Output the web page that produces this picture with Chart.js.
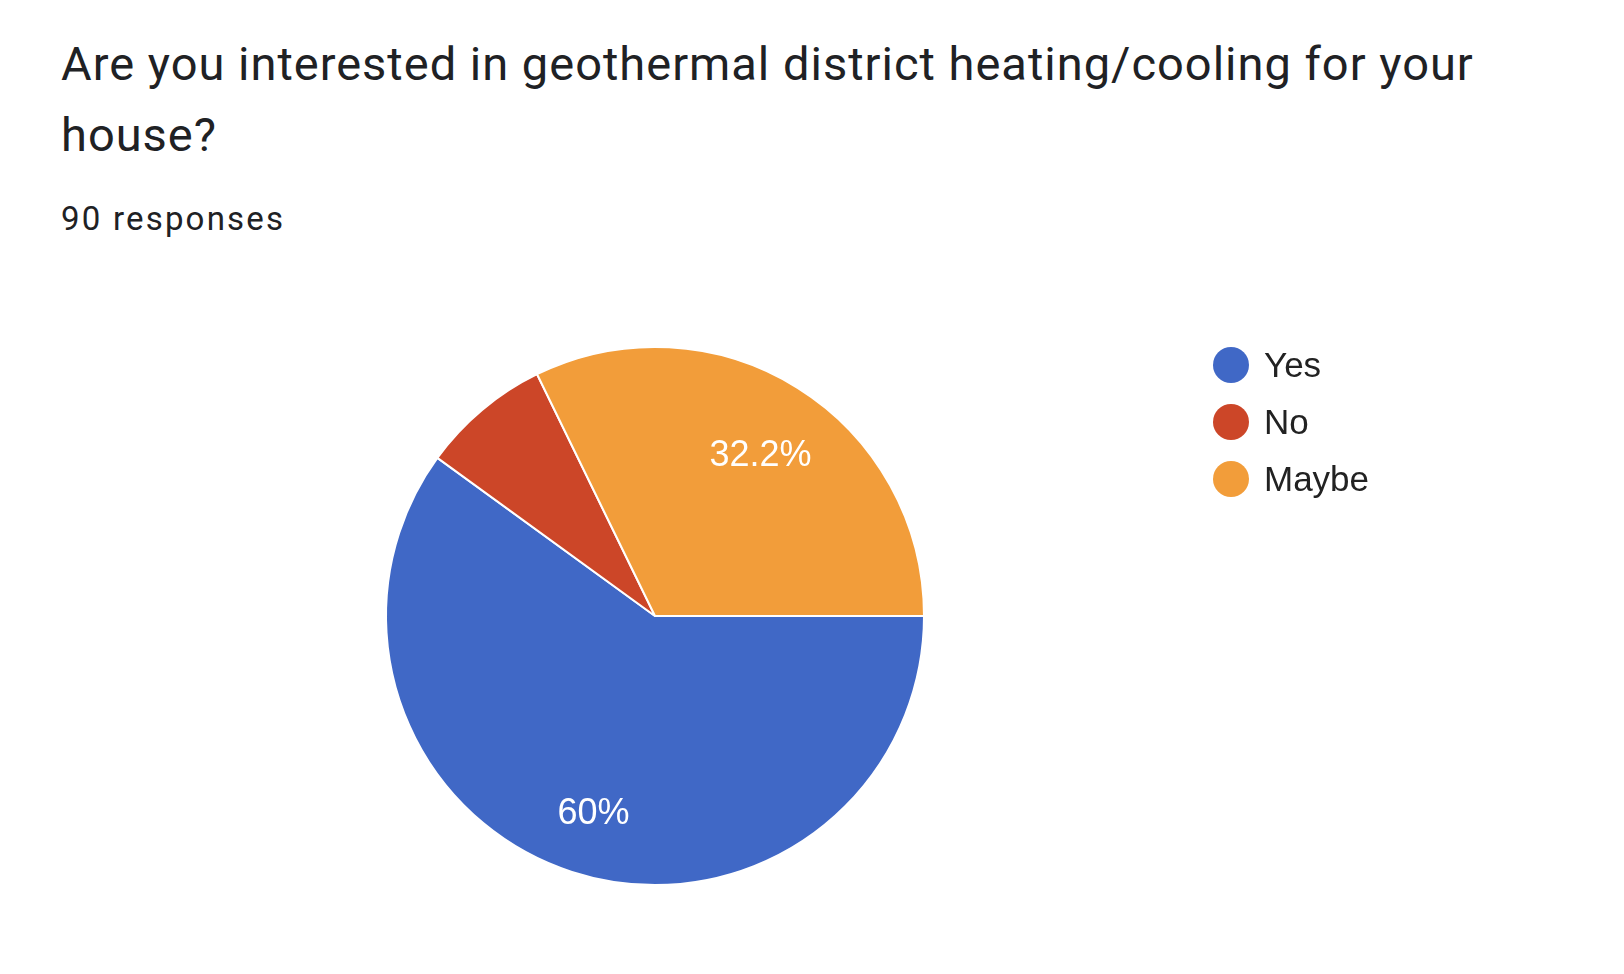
<!DOCTYPE html>
<html>
<head>
<meta charset="utf-8">
<script src="https://cdn.jsdelivr.net/npm/chart.js@4"></script>
<style>
    html, body { margin: 0; padding: 0; background: #fff; }
    body { width: 1624px; height: 974px; position: relative; overflow: hidden; }
    #title {
        position: absolute; left: 61px; top: 28px; width: 1520px;
        font-family: Roboto, "Noto Sans", sans-serif; font-size: 47px; line-height: 71px;
        letter-spacing: 1px; color: #202124; margin: 0; font-weight: 400;
    }
    #subtitle {
        position: absolute; left: 61px; top: 199px; letter-spacing: 2.2px;
        font-family: Roboto, "Noto Sans", sans-serif; font-size: 33px; color: #202124;
    }
    #chartWrap { position: absolute; left: 0; top: 0; width: 1624px; height: 974px; }
    #legend { position: absolute; left: 1213px; top: 347px; font-family: "Liberation Sans", Arial, sans-serif; }
    .legend-item { height: 57px; display: flex; align-items: flex-start; }
    .legend-dot { width: 36px; height: 36px; border-radius: 50%; margin-right: 15px; }
    .legend-label { font-size: 35px; line-height: 36px; color: #222; }
</style>
</head>
<body>
<div id="title">Are you interested in geothermal district heating/cooling for your house?</div>
<div id="subtitle">90 responses</div>
<div id="chartWrap"><canvas id="pieChart" width="1624" height="974"></canvas></div>
<div id="legend"></div>

<script>
const categories = ['Yes', 'No', 'Maybe'];
const responseCounts = [54, 7, 29];
const sliceColors = ['#4068c6', '#cc4628', '#f29d3a'];

document.addEventListener('DOMContentLoaded', function () {
    renderLegend();
    renderPie();
});

function renderLegend() {
    const legend = document.getElementById('legend');
    categories.forEach((name, i) => {
        const item = document.createElement('div');
        item.className = 'legend-item';
        item.innerHTML = '<div class="legend-dot" style="background:' + sliceColors[i] + '"></div>' +
            '<div class="legend-label">' + name + '</div>';
        legend.appendChild(item);
    });
}

// percentage labels inside the slices, skipped for small slices
const sliceLabels = {
    id: 'sliceLabels',
    afterDatasetsDraw(chart, args, opts) {
        const ctx = chart.ctx;
        const meta = chart.getDatasetMeta(0);
        const data = chart.data.datasets[0].data;
        const total = data.reduce((a, b) => a + b, 0);
        ctx.save();
        ctx.font = '36px "Liberation Sans", Arial, sans-serif';
        ctx.fillStyle = '#fff';
        ctx.textAlign = 'center';
        ctx.textBaseline = 'middle';
        meta.data.forEach((arc, i) => {
            const pct = data[i] / total * 100;
            if (pct < opts.minPercent) return;
            const p = arc.getProps(['x', 'y', 'startAngle', 'endAngle', 'outerRadius'], true);
            const mid = (p.startAngle + p.endAngle) / 2;
            const r = p.outerRadius * opts.radiusFactor;
            const text = (Math.round(pct * 10) / 10) + '%';
            ctx.fillText(text, p.x + Math.cos(mid) * r, p.y + Math.sin(mid) * r + opts.dy);
        });
        ctx.restore();
    }
};

function renderPie() {
    const ctx = document.getElementById('pieChart').getContext('2d');
    new Chart(ctx, {
        type: 'pie',
        data: {
            labels: categories,
            datasets: [{
                data: responseCounts,
                backgroundColor: sliceColors,
                borderColor: '#ffffff',
                borderWidth: 2
            }]
        },
        options: {
            responsive: false,
            animation: false,
            rotation: 90,
            layout: { padding: { left: 385, top: 346, right: 699, bottom: 88 } },
            plugins: {
                legend: { display: false },
                tooltip: { enabled: false },
                sliceLabels: { minPercent: 10, radiusFactor: 0.74, dy: 9 }
            }
        },
        plugins: [sliceLabels]
    });
}
</script>
</body>
</html>
